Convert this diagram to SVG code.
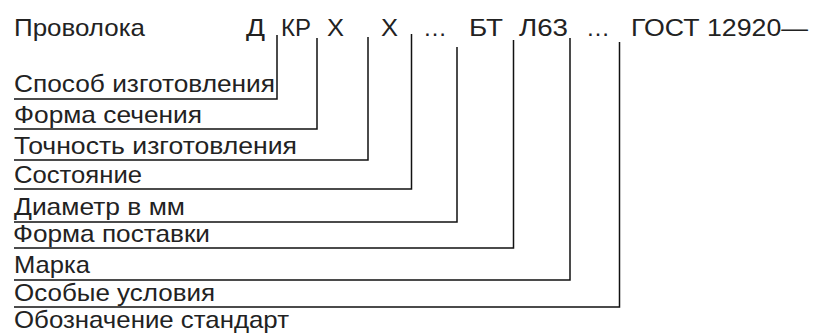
<svg xmlns="http://www.w3.org/2000/svg" width="819" height="333" viewBox="0 0 819 333">
<style>
text{font-family:"Liberation Sans",Arial,sans-serif;font-size:24px;fill:#222}
.c line,.c polyline{stroke:#111;stroke-width:1.5;fill:none}
</style>
<rect width="819" height="333" fill="#fff"/>
<g id="header">
<text x="14" y="36" textLength="131" lengthAdjust="spacingAndGlyphs">Проволока</text>
<text x="246" y="36" textLength="19" lengthAdjust="spacingAndGlyphs">Д</text>
<text x="281" y="36" textLength="30" lengthAdjust="spacingAndGlyphs">КР</text>
<text x="327" y="36" textLength="17" lengthAdjust="spacingAndGlyphs">Х</text>
<text x="381" y="36" textLength="17" lengthAdjust="spacingAndGlyphs">Х</text>
<text x="423" y="36">…</text>
<text x="469" y="36" textLength="34" lengthAdjust="spacingAndGlyphs">БТ</text>
<text x="519" y="36" textLength="49" lengthAdjust="spacingAndGlyphs">Л63</text>
<text x="586" y="36">…</text>
<text x="631" y="36" textLength="177" lengthAdjust="spacingAndGlyphs">ГОСТ 12920—</text>
</g>
<g id="n1"><text x="14" y="92" textLength="261" lengthAdjust="spacingAndGlyphs">Способ изготовления</text></g>
<g id="n2"><text x="14" y="123" textLength="188" lengthAdjust="spacingAndGlyphs">Форма сечения</text></g>
<g id="n3"><text x="14" y="154" textLength="283" lengthAdjust="spacingAndGlyphs">Точность изготовления</text></g>
<g id="n4"><text x="14" y="183" textLength="128" lengthAdjust="spacingAndGlyphs">Состояние</text></g>
<g id="n5"><text x="14" y="215" textLength="171" lengthAdjust="spacingAndGlyphs">Диаметр в мм</text></g>
<g id="n6"><text x="13" y="242" textLength="197" lengthAdjust="spacingAndGlyphs">Форма поставки</text></g>
<g id="n7"><text x="14" y="273" textLength="76" lengthAdjust="spacingAndGlyphs">Марка</text></g>
<g id="n8"><text x="14" y="301" textLength="201" lengthAdjust="spacingAndGlyphs">Особые условия</text></g>
<g id="n9"><text x="14" y="328" textLength="275" lengthAdjust="spacingAndGlyphs">Обозначение стандарт</text></g>
<g class="c" id="connectors">
<polyline points="277,35 277,99 14,99"/>
<polyline points="317,38 317,129 14,129"/>
<polyline points="368,37 368,160 14,160"/>
<polyline points="411.5,34 411.5,189 14,189"/>
<polyline points="457,47 457,222 14,222"/>
<polyline points="513.5,40 513.5,248 14,248"/>
<polyline points="570,38 570,280 14,280"/>
<polyline points="619.5,42 619.5,307 14,307"/>
</g>
</svg>
